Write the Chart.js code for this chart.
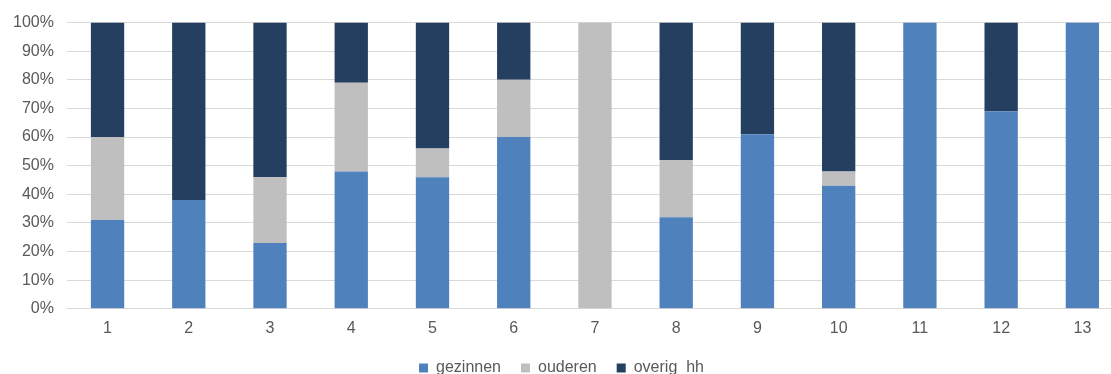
<!DOCTYPE html>
<html>
<head>
<meta charset="utf-8">
<script src="https://cdn.jsdelivr.net/npm/chart.js@4/dist/chart.umd.min.js"></script>
<style>
  html, body { margin: 0; padding: 0; background: #fff; overflow: hidden; }
  /* the plot runs a little past the right border, so the canvas is wider than the view */
  #view { width: 1111px; height: 374px; overflow: hidden; }
  #wrap { width: 1124px; height: 374px; }
</style>
</head>
<body>
<div id="view"><div id="wrap"><canvas id="shareChart"></canvas></div></div>
<script>
// share per group (percent of households)
const categories = ['1', '2', '3', '4', '5', '6', '7', '8', '9', '10', '11', '12', '13'];
const gezinnen = [31, 38, 23, 48, 46, 60, 0, 32, 61, 43, 100, 69, 100];
const ouderen  = [29, 0, 23, 31, 10, 20, 100, 20, 0, 5, 0, 0, 0];
const overigHh = [40, 62, 54, 21, 44, 20, 0, 48, 39, 52, 0, 31, 0];

const seriesColors = {
    gezinnen: '#4F81BD',
    ouderen: '#BFBFBF',
    overig: '#243F60'
};

const textColor = '#595959';
const gridColor = '#D9D9D9';
const baseFont = { family: '"Liberation Sans", Arial, sans-serif', size: 16 };

const makeSet = (label, data, color) => ({
    label,
    data,
    backgroundColor: color,
    borderWidth: 0,
    barPercentage: 0.41,
    categoryPercentage: 1.0
});

new Chart(document.getElementById('shareChart').getContext('2d'), {
    type: 'bar',
    data: {
        labels: categories,
        datasets: [
            makeSet('gezinnen', gezinnen, seriesColors.gezinnen),
            makeSet('ouderen', ouderen, seriesColors.ouderen),
            makeSet('overig  hh', overigHh, seriesColors.overig)
        ]
    },
    options: {
        responsive: true,
        maintainAspectRatio: false,
        animation: false,
        layout: { padding: { top: 18, right: 1, left: 0, bottom: -12 } },
        scales: {
            x: {
                stacked: true,
                grid: { display: false },
                border: { display: true, color: gridColor },
                ticks: { color: textColor, font: baseFont, padding: 2 }
            },
            y: {
                stacked: true,
                min: 0,
                max: 100,
                grid: { color: gridColor, drawTicks: false },
                border: { display: false },
                ticks: {
                    stepSize: 10,
                    color: textColor,
                    font: baseFont,
                    padding: 13,
                    callback: v => v + '%'
                }
            }
        },
        plugins: {
            legend: {
                position: 'bottom',
                labels: {
                    color: textColor,
                    font: baseFont,
                    boxWidth: 9,
                    boxHeight: 9,
                    padding: 20
                }
            },
            tooltip: { enabled: false }
        }
    }
});
</script>
</body>
</html>
